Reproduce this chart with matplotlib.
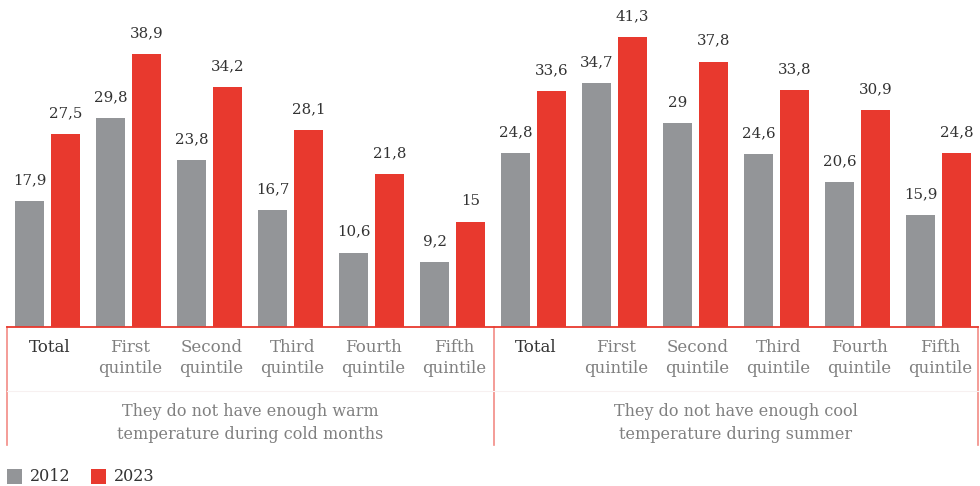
import matplotlib
matplotlib.use("Agg")
import matplotlib.pyplot as plt
from matplotlib.lines import Line2D
from matplotlib.patches import Rectangle
import numpy as np

# Share of households (%) by income quintile, 2012 vs 2023
categories = ["Total", "First\nquintile", "Second\nquintile", "Third\nquintile",
              "Fourth\nquintile", "Fifth\nquintile"] * 2
vals_2012 = [17.9, 29.8, 23.8, 16.7, 10.6, 9.2,
             24.8, 34.7, 29.0, 24.6, 20.6, 15.9]
vals_2023 = [27.5, 38.9, 34.2, 28.1, 21.8, 15.0,
             33.6, 41.3, 37.8, 33.8, 30.9, 24.8]
groups = ["They do not have enough warm\ntemperature during cold months",
          "They do not have enough cool\ntemperature during summer"]
years = ["2012", "2023"]

GREY = "#939598"
RED = "#E8392E"
LINE = "#F28B85"
TXT = "#808080"

plt.rcParams["font.family"] = ["DejaVu Serif"]

W, H = 980, 486
fig = plt.figure(figsize=(W / 100, H / 100), dpi=100)

base_px = 327
ax = fig.add_axes([0, (H - base_px) / H, 1, base_px / H])
step = 81.0
x0 = 47.5
ax.set_xlim(-x0 / step, (W - x0) / step)
ax.set_ylim(0, base_px / 7.02)
ax.axis("off")

x = np.arange(len(categories))
bw = 29 / step
off = 18 / step
ax.bar(x - off, vals_2012, bw, color=GREY, linewidth=0)
ax.bar(x + off, vals_2023, bw, color=RED, linewidth=0)


def fmt(v):
    s = ("%.1f" % v).replace(".", ",")
    return s[:-2] if s.endswith(",0") else s


for xi, v in zip(x - off, vals_2012):
    ax.annotate(fmt(v), (xi, v), xytext=(0, 10), textcoords="offset points",
                ha="center", va="bottom", fontsize=10.8, color="#333333")
for xi, v in zip(x + off, vals_2023):
    ax.annotate(fmt(v), (xi, v), xytext=(0, 10), textcoords="offset points",
                ha="center", va="bottom", fontsize=10.8, color="#333333")

# table-like frame beneath the bars (pixel coordinates)
def fx(px):
    return px / W


def fy(py):
    return 1 - py / H


left, mid, right = 7, 493.5, 977.5
bottom = 445
for xp in (left, mid, right):
    fig.add_artist(Line2D([fx(xp), fx(xp)], [fy(base_px), fy(bottom)],
                          color=LINE, lw=1.2))
fig.add_artist(Line2D([fx(left), fx(right)], [fy(base_px), fy(base_px)],
                      color=RED, lw=1.3))
fig.add_artist(Line2D([fx(left), fx(right)], [fy(391), fy(391)],
                      color="#F7F0F0", lw=0.8))

for xi, cat in zip(x, categories):
    xp = x0 + xi * step + 2
    col = "#333333" if cat == "Total" else TXT
    fig.text(fx(xp), fy(339), cat, ha="center", va="top", fontsize=12,
             color=col, linespacing=1.3)

for i, g in enumerate(groups):
    cx = (left + mid) / 2 if i == 0 else (mid + right) / 2
    fig.text(fx(cx), fy(423), g, ha="center", va="center", fontsize=11.5,
             color=TXT, linespacing=1.4)

# legend
for xp, col, lab in [(7, GREY, years[0]), (91, RED, years[1])]:
    fig.add_artist(Rectangle((fx(xp), fy(484)), 15 / W, 15 / H,
                             transform=fig.transFigure, color=col, lw=0))
    fig.text(fx(xp + 23), fy(476), lab, ha="left", va="center",
             fontsize=11.5, color="#333333")

fig.savefig("out.png", dpi=100)
